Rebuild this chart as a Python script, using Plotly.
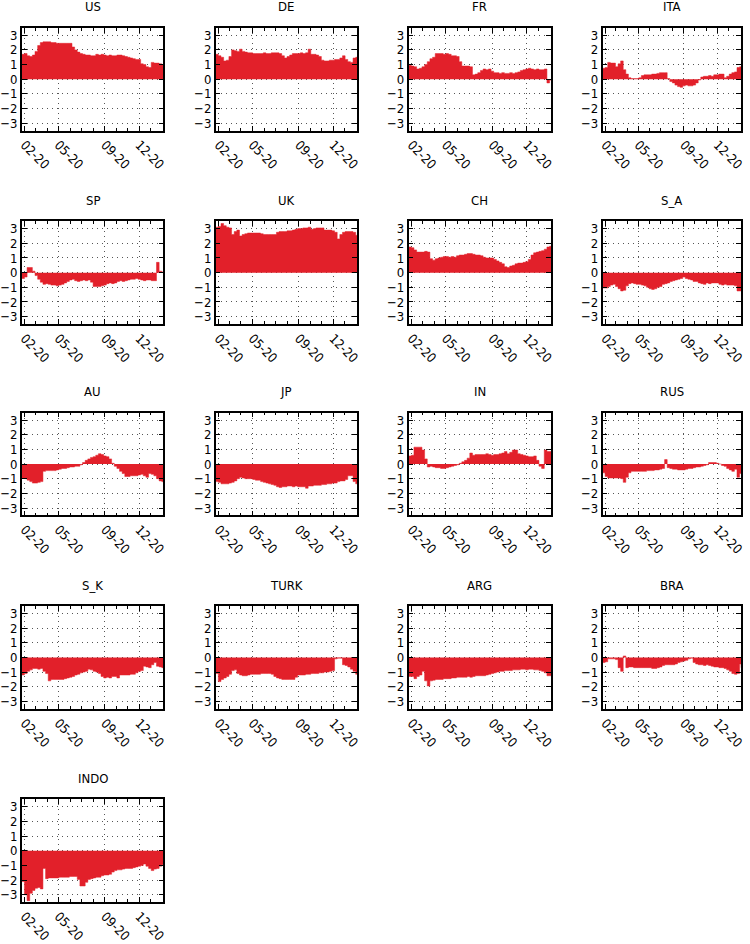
import pandas as pd
import plotly.graph_objects as go

# weekly sample points (last point = right edge)
dates = list(pd.date_range("2020-01-25", periods=54, freq="7D")) + [pd.Timestamp("2021-02-03")]

US = [1.7, 1.75, 1.6, 1.55, 1.65, 1.9, 2.3, 2.5, 2.55, 2.55, 2.55, 2.5, 2.5, 2.45, 2.45, 2.45, 2.45, 2.45, 2.45,
      2.2, 2.0, 1.85, 1.75, 1.7, 1.65, 1.65, 1.6, 1.6, 1.7, 1.65, 1.7, 1.65, 1.6, 1.65, 1.6, 1.6, 1.65, 1.65, 1.6,
      1.55, 1.5, 1.45, 1.4, 1.35, 1.35, 1.05, 1.0, 0.85, 0.8, 1.15, 1.1, 1.1, 1.05, 1.0, 0.95]
DE = [1.7, 1.6, 1.5, 1.25, 1.3, 1.55, 2.0, 1.95, 1.9, 2.05, 1.9, 1.85, 1.8, 1.8, 1.75, 1.75, 1.75, 1.75, 1.8,
      1.75, 1.75, 1.8, 1.8, 1.8, 1.75, 1.6, 1.45, 1.55, 1.65, 1.75, 1.75, 1.75, 1.8, 1.75, 1.8, 2.05, 1.7, 1.7, 1.65,
      1.55, 1.3, 1.25, 1.25, 1.3, 1.3, 1.35, 1.35, 1.45, 1.6, 1.35, 1.2, 1.15, 1.45, 1.5, 1.45]
FR = [0.95, 0.9, 0.85, 0.7, 0.75, 0.85, 1.0, 1.2, 1.4, 1.5, 1.75, 1.75, 1.75, 1.7, 1.75, 1.7, 1.6, 1.6, 1.55,
      1.2, 0.9, 0.9, 0.9, 0.85, 0.3, 0.35, 0.45, 0.6, 0.7, 0.65, 0.7, 0.55, 0.45, 0.45, 0.4, 0.45, 0.4, 0.4, 0.45,
      0.4, 0.45, 0.5, 0.6, 0.65, 0.7, 0.75, 0.7, 0.65, 0.7, 0.65, 0.65, 0.7, -0.25, -0.05, -0.1]
ITA = [0.75, 0.8, 1.15, 1.1, 1.1, 0.85, 1.05, 1.25, 0.65, 0.35, 0.1, 0.05, 0.05, 0.05, 0.1, 0.25, 0.3, 0.3, 0.3,
       0.35, 0.35, 0.4, 0.45, 0.45, 0.45, 0.05, -0.15, -0.25, -0.4, -0.5, -0.55, -0.45, -0.4, -0.45, -0.45, -0.4,
       -0.25, -0.05, 0.15, 0.2, 0.2, 0.25, 0.2, 0.3, 0.3, 0.35, 0.35, 0.1, 0.2, 0.35, 0.45, 0.5, 0.8, 0.85, 0.85]
SP = [-0.4, -0.3, 0.35, 0.35, 0.1, -0.2, -0.45, -0.65, -0.8, -0.75, -0.8, -0.85, -0.85, -0.9, -0.85, -0.8, -0.7,
      -0.6, -0.5, -0.45, -0.55, -0.6, -0.55, -0.5, -0.55, -0.5, -0.65, -0.95, -0.95, -0.95, -0.9, -0.85, -0.75,
      -0.7, -0.75, -0.7, -0.6, -0.55, -0.6, -0.55, -0.5, -0.45, -0.45, -0.4, -0.45, -0.5, -0.55, -0.5, -0.5, -0.55,
      -0.55, 0.7, 0.1, 0.05, 0.05]
UK = [3.1, 3.15, 3.35, 3.2, 3.1, 3.05, 2.6, 2.8, 2.9, 2.5, 2.6, 2.65, 2.7, 2.7, 2.7, 2.7, 2.7, 2.65, 2.6, 2.6,
      2.6, 2.6, 2.6, 2.75, 2.8, 2.8, 2.8, 2.85, 2.85, 2.9, 2.95, 3.0, 3.0, 3.05, 3.05, 3.1, 2.95, 3.0, 3.05, 3.05,
      3.05, 2.9, 2.9, 2.9, 2.85, 2.75, 2.3, 2.6, 2.75, 2.8, 2.8, 2.8, 2.75, 2.55, 2.55]
CH = [1.75, 1.7, 1.55, 1.4, 1.4, 1.4, 1.45, 1.4, 0.95, 0.85, 0.95, 1.0, 1.05, 1.1, 1.1, 1.05, 1.1, 1.05, 1.15,
      1.2, 1.2, 1.25, 1.3, 1.3, 1.25, 1.2, 1.2, 1.15, 1.05, 1.0, 1.0, 1.0, 0.9, 0.8, 0.7, 0.6, 0.4, 0.35, 0.45,
      0.5, 0.6, 0.65, 0.65, 0.7, 0.75, 0.9, 1.2, 1.35, 1.4, 1.45, 1.5, 1.6, 1.75, 1.8, 1.8]
S_A = [-1.05, -1.05, -0.95, -0.85, -0.8, -0.95, -1.1, -1.25, -1.2, -0.9, -0.75, -0.7, -0.75, -0.8, -0.8, -0.85,
       -0.9, -1.0, -1.1, -1.15, -1.1, -1.0, -0.95, -0.8, -0.75, -0.7, -0.6, -0.55, -0.5, -0.45, -0.4, -0.3, -0.4,
       -0.45, -0.5, -0.6, -0.6, -0.7, -0.75, -0.8, -0.7, -0.75, -0.7, -0.7, -0.7, -0.8, -0.85, -0.8, -0.85, -0.85,
       -0.85, -0.9, -1.25, -1.25, -1.25]
AU = [-0.95, -1.0, -1.1, -1.2, -1.3, -1.3, -1.25, -1.2, -0.5, -0.45, -0.45, -0.45, -0.45, -0.4, -0.35, -0.3,
      -0.3, -0.25, -0.2, -0.2, -0.15, -0.15, -0.05, 0.1, 0.25, 0.35, 0.45, 0.5, 0.6, 0.7, 0.65, 0.55, 0.5, 0.35,
      0.05, -0.15, -0.3, -0.5, -0.65, -0.85, -0.85, -0.8, -0.8, -0.8, -0.75, -0.7, -0.8, -0.9, -0.65, -0.7, -0.8,
      -1.0, -1.15, -1.2, -1.25]
JP = [-1.2, -1.25, -1.35, -1.35, -1.35, -1.3, -1.25, -1.15, -1.0, -0.9, -0.95, -1.0, -1.0, -1.0, -1.05, -1.1,
      -1.1, -1.2, -1.25, -1.3, -1.35, -1.4, -1.45, -1.55, -1.6, -1.55, -1.55, -1.5, -1.5, -1.55, -1.5, -1.55,
      -1.55, -1.55, -1.65, -1.5, -1.5, -1.45, -1.45, -1.45, -1.4, -1.4, -1.35, -1.35, -1.3, -1.3, -1.2, -1.15,
      -1.15, -1.05, -0.8, -0.8, -1.2, -1.35, -1.35]
IN = [0.55, 0.6, 1.15, 1.15, 1.15, 0.95, 0.35, -0.2, -0.15, -0.2, -0.25, -0.25, -0.3, -0.3, -0.25, -0.2, -0.15,
      -0.1, -0.05, 0.05, 0.15, 0.25, 0.4, 0.75, 0.6, 0.65, 0.65, 0.65, 0.65, 0.7, 0.65, 0.6, 0.65, 0.65, 0.7, 0.75,
      0.85, 0.7, 0.8, 0.95, 0.95, 0.7, 0.65, 0.6, 0.55, 0.5, 0.5, 0.55, 0.25, -0.15, -0.3, 0.95, 0.85, 0.85, 0.85]
RUS = [-0.6, -0.85, -0.95, -0.95, -0.95, -0.95, -0.95, -1.0, -1.25, -0.9, -0.6, -0.5, -0.5, -0.5, -0.5, -0.5,
       -0.5, -0.45, -0.45, -0.45, -0.4, -0.4, -0.35, -0.3, 0.3, -0.25, -0.3, -0.35, -0.35, -0.4, -0.4, -0.4, -0.35,
       -0.3, -0.3, -0.25, -0.2, -0.2, -0.15, -0.1, -0.05, 0.1, 0.1, 0.1, 0.05, 0.0, -0.1, -0.15, -0.3, -0.4, -0.5,
       -0.35, -0.9, -0.65, -0.65]
S_K = [-1.2, -1.1, -0.95, -0.85, -0.75, -0.75, -0.8, -0.75, -0.95, -1.1, -1.6, -1.5, -1.5, -1.5, -1.5, -1.5,
       -1.45, -1.4, -1.35, -1.3, -1.2, -1.15, -1.05, -1.0, -0.95, -0.8, -0.85, -0.95, -1.0, -1.1, -1.3, -1.4, -1.35,
       -1.4, -1.3, -1.3, -1.4, -1.2, -1.2, -1.2, -1.2, -1.15, -1.15, -1.05, -0.95, -0.9, -0.6, -0.65, -0.7, -0.5,
       -0.35, -0.6, -0.65, -0.7, -0.7]
TURK = [-1.1, -1.65, -1.5, -1.4, -1.3, -1.15, -0.9, -0.85, -1.1, -1.2, -1.25, -1.25, -1.2, -1.15, -1.15, -1.15,
        -1.15, -1.1, -1.1, -1.1, -1.1, -1.15, -1.3, -1.4, -1.45, -1.5, -1.5, -1.5, -1.5, -1.5, -1.35, -1.2, -1.2,
        -1.2, -1.15, -1.15, -1.1, -1.1, -1.1, -1.05, -1.05, -1.0, -1.0, -0.95, -0.9, -0.1, -0.05, -0.05, -0.5,
        -0.55, -0.65, -0.8, -0.95, -1.15, -1.15]
ARG = [-1.3, -1.3, -1.45, -1.3, -1.2, -0.95, -1.6, -1.95, -1.6, -1.55, -1.5, -1.5, -1.5, -1.45, -1.45, -1.45,
       -1.4, -1.4, -1.35, -1.35, -1.35, -1.35, -1.3, -1.35, -1.3, -1.25, -1.25, -1.25, -1.25, -1.2, -1.15, -1.1,
       -1.05, -1.0, -0.95, -0.95, -0.9, -0.9, -0.9, -0.85, -0.85, -0.85, -0.8, -0.8, -0.85, -0.8, -0.8, -0.85,
       -0.85, -0.9, -0.95, -1.05, -1.25, -1.25, -1.25]
BRA = [-0.35, -0.3, -0.1, -0.1, -0.1, -0.15, -0.7, -0.95, 0.1, -0.7, -0.65, -0.65, -0.7, -0.7, -0.7, -0.7,
       -0.7, -0.7, -0.7, -0.75, -0.75, -0.7, -0.65, -0.55, -0.5, -0.5, -0.5, -0.5, -0.45, -0.35, -0.3, -0.25, -0.2,
       -0.1, -0.05, -0.35, -0.45, -0.5, -0.5, -0.55, -0.5, -0.55, -0.6, -0.65, -0.65, -0.7, -0.7, -0.75, -0.85,
       -0.95, -1.1, -1.15, -1.1, -0.45, -0.7]
INDO = [-2.1, -3.0, -3.4, -2.9, -2.7, -2.55, -2.5, -2.6, -1.2, -1.9, -1.85, -1.85, -1.85, -1.85, -1.8, -1.8,
        -1.8, -1.8, -1.75, -1.75, -1.75, -1.95, -2.4, -2.4, -2.15, -1.95, -1.9, -1.85, -1.8, -1.8, -1.7, -1.65,
        -1.65, -1.6, -1.45, -1.35, -1.3, -1.3, -1.25, -1.2, -1.2, -1.2, -1.15, -1.1, -1.05, -1.0, -0.9, -1.05,
        -1.2, -1.35, -1.25, -1.2, -1.05, -0.95, -0.95]

panels = [("US", US), ("DE", DE), ("FR", FR), ("ITA", ITA),
          ("SP", SP), ("UK", UK), ("CH", CH), ("S_A", S_A),
          ("AU", AU), ("JP", JP), ("IN", IN), ("RUS", RUS),
          ("S_K", S_K), ("TURK", TURK), ("ARG", ARG), ("BRA", BRA),
          ("INDO", INDO)]

tick_dates = ["2020-02-01", "2020-05-01", "2020-09-01", "2020-12-01"]
tick_text = ["02-20", "05-20", "09-20", "12-20"]
y_ticks = [-3, -2, -1, 0, 1, 2, 3]

W, H = 750, 944
col_left = [18, 214, 409, 605]
col_right = [161, 357, 553, 745]
row_top = [28, 222, 414, 608, 802]
box_h = 103

RED = "#e2202a"
FONT = "DejaVu Sans Condensed, Liberation Sans Narrow, DejaVu Sans, sans-serif"
GRID_DASH = "1px,4px"

fig = go.Figure()
annotations = []
for i, (name, vals) in enumerate(panels):
    k = i + 1
    r, c = divmod(i, 4)
    # stepped outline, like the jagged daily series in the original
    fig.add_trace(go.Scatter(
        x=dates, y=vals, mode="lines", fill="tozeroy", line_shape="hv",
        fillcolor=RED, line=dict(color=RED, width=0.5),
        xaxis=f"x{k}", yaxis=f"y{k}", showlegend=False, hoverinfo="skip"))
    x0, x1 = col_left[c] / W, col_right[c] / W
    y1 = 1 - row_top[r] / H
    y0 = 1 - (row_top[r] + box_h) / H
    fig.layout[f"xaxis{k}"] = dict(
        domain=[x0, x1], anchor=f"y{k}",
        range=["2020-01-25", "2021-02-03"],
        tickvals=tick_dates, ticktext=tick_text, tickangle=45,
        ticks="inside", ticklen=5, tickcolor="black",
        minor=dict(dtick="M1", tick0="2020-01-01", ticks="inside", ticklen=3,
                   tickcolor="black", showgrid=False),
        showgrid=True, griddash=GRID_DASH, gridcolor="#555", gridwidth=1,
        showline=True, linecolor="black", linewidth=1.5, mirror="allticks",
        tickfont=dict(family=FONT, size=13, color="black"))
    fig.layout[f"yaxis{k}"] = dict(
        domain=[y0, y1], anchor=f"x{k}", range=[-3.5, 3.5],
        tickvals=y_ticks, ticks="inside", ticklen=5, tickcolor="black",
        showgrid=True, griddash=GRID_DASH, gridcolor="#555", gridwidth=1,
        zeroline=False,
        showline=True, linecolor="black", linewidth=1.5, mirror="allticks",
        tickfont=dict(family=FONT, size=13, color="black"))
    annotations.append(dict(
        text=name, xref="paper", yref="paper",
        x=(x0 + x1) / 2, y=1 - (row_top[r] - 21) / H,
        xanchor="center", yanchor="middle", showarrow=False,
        font=dict(family=FONT, size=13, color="black")))

fig.update_layout(
    width=W, height=H, margin=dict(l=0, r=0, t=0, b=0),
    paper_bgcolor="white", plot_bgcolor="white",
    annotations=annotations)

# drop the browser's default 8px page margin so the figure sits at (0, 0)
fig.write_html("out.html", config={"displayModeBar": False},
               post_script="document.body.style.margin='0';")
